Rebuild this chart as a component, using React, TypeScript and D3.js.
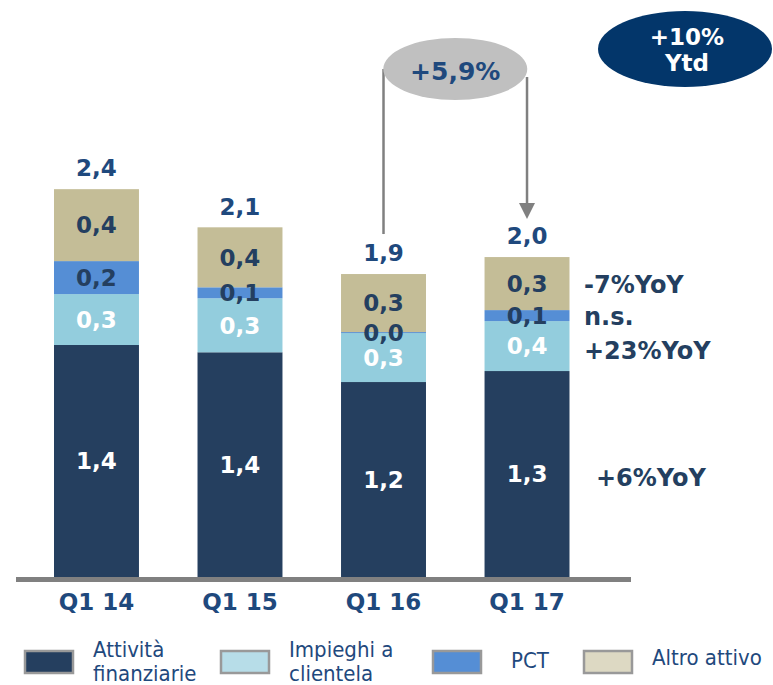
import * as d3 from 'd3'

const categories = ['Q1 14', 'Q1 15', 'Q1 16', 'Q1 17']
const attivita = [1.435, 1.39, 1.206, 1.274]
const impieghi = [0.315, 0.334, 0.303, 0.309]
const pct = [0.204, 0.068, 0.006, 0.068]
const altro = [0.445, 0.371, 0.359, 0.328]

const totalLabels = ['2,4', '2,1', '1,9', '2,0']
const attivitaLabels = ['1,4', '1,4', '1,2', '1,3']
const impieghiLabels = ['0,3', '0,3', '0,3', '0,4']
const pctLabels = ['0,2', '0,1', '0,0', '0,1']
const altroLabels = ['0,4', '0,4', '0,3', '0,3']

const yoyLabels = ['+6%YoY', '+23%YoY', 'n.s.', '-7%YoY']
const growthLabel = '+5,9%'
const ytdLabel = ['+10%', 'Ytd']

const WIDTH = 773
const HEIGHT = 685
const BASE = 577
const BOLD = '"DejaVu Sans", Verdana, sans-serif'
const LEGEND_FONT = '"DejaVu Sans Condensed", "DejaVu Sans", sans-serif'

const series = [
  { name: 'Attività finanziarie', lines: ['Attività', 'finanziarie'], values: attivita, labels: attivitaLabels, fill: '#253f5f', swatch: '#253f5f', text: '#ffffff' },
  { name: 'Impieghi a clientela', lines: ['Impieghi a', 'clientela'], values: impieghi, labels: impieghiLabels, fill: '#93cddd', swatch: '#b7dde8', text: '#ffffff' },
  { name: 'PCT', lines: ['PCT'], values: pct, labels: pctLabels, fill: '#558ed5', swatch: '#558ed5', text: '#243f60' },
  { name: 'Altro attivo', lines: ['Altro attivo'], values: altro, labels: altroLabels, fill: '#c4bd97', swatch: '#ddd9c3', text: '#243f60' },
]

const legendX = [24, 220, 432, 583]

export default function App() {
  const x = d3
    .scaleBand()
    .domain(categories)
    .range([25.3, 598.2])
    .paddingInner(0.408)
    .paddingOuter(0.2)
  const y = d3.scaleLinear().domain([0, 2.4]).range([BASE, 189])

  const stacked = d3
    .stack<number>()
    .keys(series.map((_, i) => String(i)))
    .value((ci, key) => series[+key].values[ci])(categories.map((_, i) => i))

  const bw = x.bandwidth()
  const cx = (i: number) => (x(categories[i]) ?? 0) + bw / 2
  const last = categories.length - 1
  const leftX = cx(2)
  const rightX = cx(3)
  const topOf = (i: number) => y(stacked[stacked.length - 1][i][1])

  return (
    <svg
      width={WIDTH}
      height={HEIGHT}
      style={{ position: 'absolute', left: 0, top: 0, background: '#fff' }}
    >
      {/* bars */}
      {stacked.map((layer, si) => (
        <g key={si}>
          {layer.map((d, ci) => (
            <rect
              key={ci}
              x={x(categories[ci])}
              y={y(d[1])}
              width={bw}
              height={Math.max(1, y(d[0]) - y(d[1]))}
              fill={series[si].fill}
            />
          ))}
        </g>
      ))}

      {/* segment labels */}
      {stacked.map((layer, si) => (
        <g key={'l' + si} fontFamily={BOLD} fontWeight="bold" fontSize={23} textAnchor="middle" fill={series[si].text}>
          {layer.map((d, ci) => (
            <text key={ci} x={cx(ci)} y={(y(d[0]) + y(d[1])) / 2} dy="0.36em">
              {series[si].labels[ci]}
            </text>
          ))}
        </g>
      ))}

      {/* totals */}
      <g fontFamily={BOLD} fontWeight="bold" fontSize={23} textAnchor="middle" fill="#1f497d">
        {categories.map((c, i) => (
          <text key={c} x={cx(i)} y={topOf(i) - 21} dy="0.36em">
            {totalLabels[i]}
          </text>
        ))}
      </g>

      {/* baseline */}
      <line x1={16} x2={631} y1={BASE + 2.5} y2={BASE + 2.5} stroke="#808080" strokeWidth={5} />

      {/* category labels */}
      <g fontFamily={BOLD} fontWeight="bold" fontSize={23} textAnchor="middle" fill="#1f497d">
        {categories.map((c, i) => (
          <text key={c} x={cx(i)} y={610}>
            {c}
          </text>
        ))}
      </g>

      {/* YoY annotations beside last bar */}
      <g fontFamily={BOLD} fontWeight="bold" fontSize={24} fill="#243f60">
        {stacked.map((layer, si) => {
          const d = layer[last]
          const mid = (y(d[0]) + y(d[1])) / 2
          const off = si === 1 ? 13 : si === 0 ? 12 : 9
          return (
            <text key={si} x={si === 0 ? 596 : 584} y={mid + off}>
              {yoyLabels[si]}
            </text>
          )
        })}
      </g>

      {/* growth arrow */}
      <line x1={leftX} x2={leftX} y1={69} y2={topOf(2) - 40} stroke="#808080" strokeWidth={2.5} />
      <line x1={rightX} x2={rightX} y1={77} y2={topOf(3) - 50} stroke="#808080" strokeWidth={2.5} />
      <path
        d={`M${rightX - 8},${topOf(3) - 54} L${rightX + 8},${topOf(3) - 54} L${rightX},${topOf(3) - 38} z`}
        fill="#808080"
      />
      <ellipse cx={(leftX + rightX) / 2} cy={69} rx={72} ry={31} fill="#c0c0c0" />
      <text x={(leftX + rightX) / 2} y={71} dy="0.36em" textAnchor="middle" fontFamily={BOLD} fontWeight="bold" fontSize={25} fill="#1f497d">
        {growthLabel}
      </text>

      {/* ytd badge */}
      <ellipse cx={685} cy={49} rx={87} ry={38} fill="#03366a" />
      <g fontFamily={BOLD} fontWeight="bold" fontSize={23} textAnchor="middle" fill="#ffffff">
        <text x={687} y={37} dy="0.36em">{ytdLabel[0]}</text>
        <text x={687} y={63} dy="0.36em">{ytdLabel[1]}</text>
      </g>

      {/* legend */}
      {series.map((s, i) => {
        const lx = legendX[i]
        const tx = lx + (i === 2 ? 79 : 69)
        const single = s.lines.length === 1
        return (
          <g key={s.name}>
            <rect x={lx + 1} y={651} width={48} height={22} fill={s.swatch} stroke="#999999" strokeWidth={2.5} />
            <text fontFamily={LEGEND_FONT} fontSize={22} fill="#1f497d">
              {s.lines.map((ln, k) => (
                <tspan key={k} x={tx} y={(single ? (i === 2 ? 668 : 665) : 657) + k * 24}>
                  {ln}
                </tspan>
              ))}
            </text>
          </g>
        )
      })}
    </svg>
  )
}
